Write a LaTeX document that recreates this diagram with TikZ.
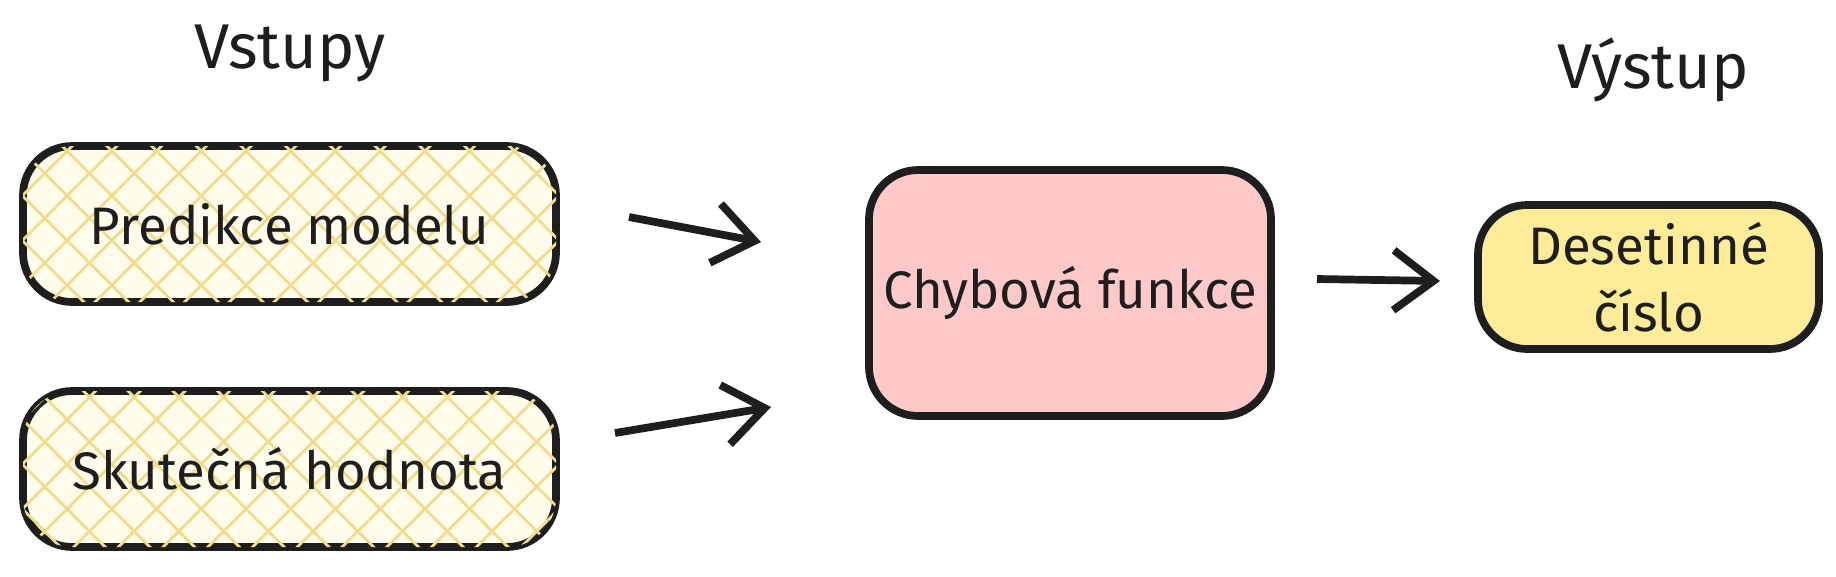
\documentclass[tikz,border=0pt]{standalone}
\usepackage{fontspec}
\setmainfont{Fira Sans}
\usetikzlibrary{patterns.meta,arrows.meta}
\definecolor{hatch}{HTML}{F0DC8C}
\definecolor{hatchbg}{HTML}{FFFCEB}
\definecolor{errpink}{HTML}{FFC9C9}
\definecolor{outyel}{HTML}{FFEC99}
\definecolor{ink}{HTML}{1E1E1E}
\tikzset{
  box/.style={draw=ink, line width=2.2pt, rounded corners=14pt, align=center, font=\fontsize{15}{19}\selectfont, text=ink},
  inbox/.style={box, minimum width=5.33cm, minimum height=1.56cm, fill=hatchbg,
    postaction={pattern={Lines[angle=45,distance=9pt,line width=0.8pt]}, pattern color=hatch},
    postaction={pattern={Lines[angle=-45,distance=9pt,line width=0.8pt]}, pattern color=hatch}},
  flow/.style={draw=ink, line width=2.2pt, -{Straight Barb[length=4mm,width=6mm]}},
  head/.style={font=\fontsize{18}{22}\selectfont, text=ink}
}
\begin{document}
\begin{tikzpicture}
  \useasboundingbox (0,0) rectangle (18.36,5.76);
  \node[inbox] (pred) at (2.895,3.52) {Predikce modelu};
  \node[inbox] (real) at (2.895,1.07) {Skutečná hodnota};
  \node[box, fill=errpink, minimum width=4.02cm, minimum height=2.46cm] (loss) at (10.70,2.83) {Chybová funkce};
  \node[box, fill=outyel, minimum width=3.41cm, minimum height=1.44cm] (out) at (16.485,2.99) {Desetinné\\číslo};
  \node[head] (vin) at (2.90,5.23) {Vstupy};
  \node[head] (vout) at (16.53,5.06) {Výstup};
  \coordinate (a1) at (6.29,3.59);
  \coordinate (b1) at (7.61,3.34);
  \coordinate (a2) at (6.15,1.43);
  \coordinate (b2) at (7.71,1.69);
  \coordinate (a3) at (13.17,2.97);
  \coordinate (b3) at (14.40,2.95);
  \draw[flow] (a1) -- (b1);
  \draw[flow] (a2) -- (b2);
  \draw[flow] (a3) -- (b3);
\end{tikzpicture}
\end{document}
